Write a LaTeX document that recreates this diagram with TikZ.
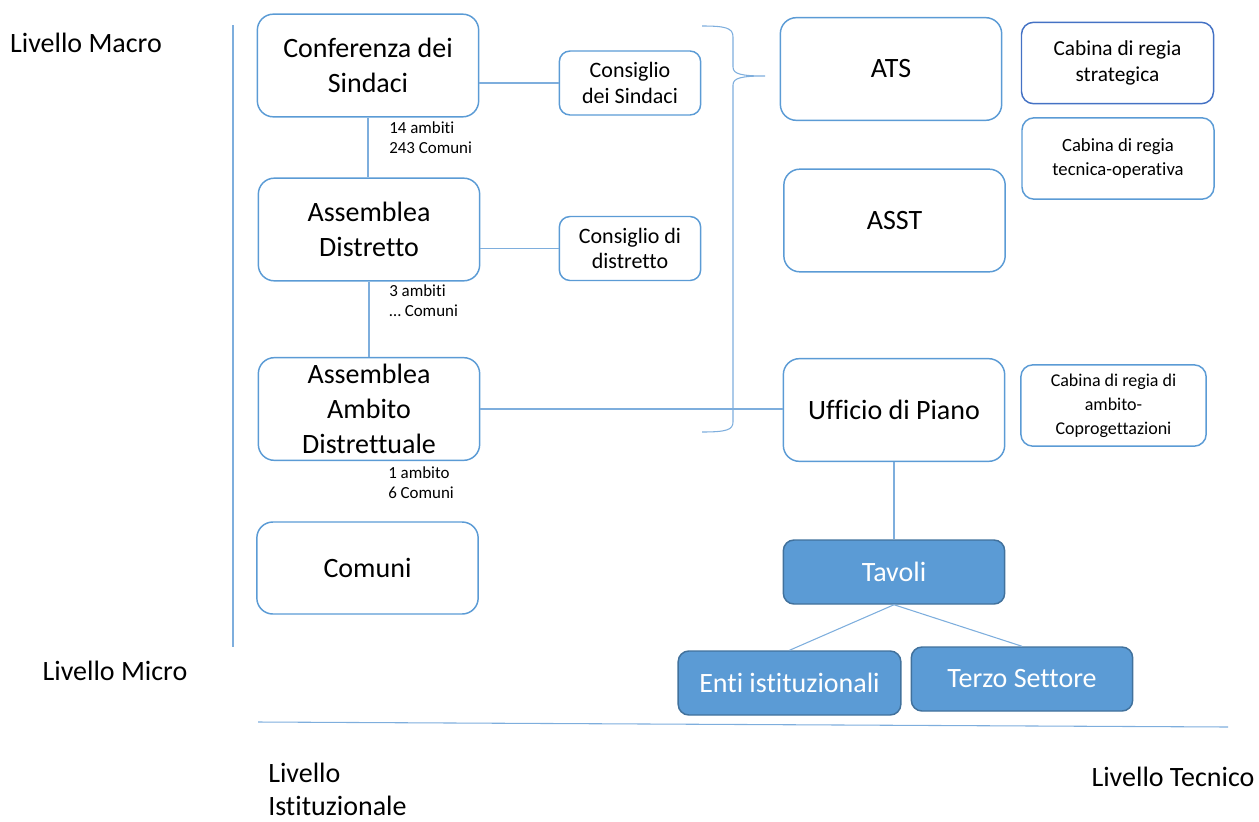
\documentclass[tikz,border=0pt]{standalone}
\usepackage{fontspec}
\setmainfont{Carlito}[Ligatures=NoCommon]
\definecolor{boxblue}{HTML}{5B9BD5}
\definecolor{darkblue}{HTML}{4472C4}
\definecolor{tavborder}{HTML}{41719C}
\definecolor{lineblue}{HTML}{7EAEDD}
\tikzset{
  box/.style={draw=boxblue,line width=1.1pt,rounded corners=12pt,align=center,
    inner sep=0pt,minimum width=166pt,minimum height=77pt,
    font=\fontsize{21}{26}\selectfont},
  smallbox/.style={box,minimum width=106pt,minimum height=48pt,rounded corners=8pt,
    font=\fontsize{16.5}{19}\selectfont},
  cabina/.style={box,minimum width=144pt,minimum height=61pt,rounded corners=9pt,
    font=\fontsize{14}{18}\selectfont},
  tavolo/.style={box,fill=boxblue,draw=tavborder,text=white,minimum height=48pt,
    rounded corners=8pt},
  note/.style={anchor=north west,align=left,inner sep=0pt,
    font=\fontsize{12.7}{15}\selectfont},
  livello/.style={inner sep=0pt,align=left,font=\fontsize{21}{24.5}\selectfont},
  link/.style={draw=lineblue,line width=0.8pt}
}
\begin{document}
\begin{tikzpicture}[x=0.75pt,y=-0.75pt]
  \useasboundingbox (0,0) rectangle (1259,821);
  % livello istituzionale
  \node[box] (conf) at (368,65.5) {Conferenza dei\\Sindaci};
  \node[box] (asd) at (369,229.5) {Assemblea\\Distretto};
  \node[box] (amb) at (369,409) {Assemblea\\Ambito\\Distrettuale};
  \node[box,minimum height=69pt] (com) at (367.5,568) {Comuni};
  \node[smallbox] (cons) at (630,83) {Consiglio\\dei Sindaci};
  \node[smallbox] (consd) at (630,248.5) {Consiglio di\\distretto};
  \node[note] (n1) at (389,121) {14 ambiti\\243 Comuni};
  \node[note] (n2) at (389,284) {3 ambiti\\\dots\ Comuni};
  \node[note] (n3) at (388,466) {1 ambito\\6 Comuni};
%%%
  % livello tecnico
  \node[box] (ats) at (891,69) {ATS};
  \node[box] (asst) at (894.5,220.5) {ASST};
  \node[box] (uff) at (894,410) {Ufficio di Piano};
  \node[cabina,draw=darkblue,font=\fontsize{16}{20}\selectfont] (cstr) at (1117.5,63) {Cabina di regia\\strategica};
  \node[cabina] (ctec) at (1118,158.5) {Cabina di regia\\tecnica-operativa};
  \node[cabina,minimum width=139pt,font=\fontsize{13.5}{18}\selectfont] (camb) at (1113.5,405.5) {Cabina di regia di\\ambito-\\Coprogettazioni};
  \node[tavolo] (tav) at (894,572) {Tavoli};
  \node[tavolo,minimum width=167pt] (enti) at (789.5,683) {Enti istituzionali};
  \node[tavolo] (terzo) at (1022,679) {Terzo Settore};
%%%
  \draw[link] (conf.south) -- (conf.south |- asd.north);
  \draw[link] (asd.south) -- (asd.south |- amb.north);
  \draw[link] (cons.west -| conf.east) -- (cons.west);
  \draw[link] (consd.west -| asd.east) -- (consd.west);
  \draw[link] (amb.east) -- (amb.east -| uff.west);
  \draw[link] (uff.south) -- (tav.north);
  \draw[link] (tav.south) -- (enti.north);
  \draw[link] (tav.south) -- (terzo.north);
%%%
  % graffa
  \coordinate (gtop) at (702,26);
  \coordinate (gtip) at (765,76);
  \coordinate (gbot) at (702,432);
  \draw[link] (gtop) .. controls (726,26) and (733,28) .. (733,37)
    -- (733,67) .. controls (733,74) and (741,76) .. (gtip)
    .. controls (741,76) and (733,78) .. (733,85)
    -- (733,422) .. controls (733,430) and (726,432) .. (gbot);
%%%
  % assi
  \coordinate (av1) at (233,25);
  \coordinate (av2) at (233,647);
  \coordinate (ao1) at (258,722);
  \coordinate (ao2) at (1228,727);
  \draw[link] (av1) -- (av2);
  \draw[link] (ao1) -- (ao2);
  \node[livello] (macro) at (86,43) {Livello Macro};
  \node[livello] (micro) at (115,671) {Livello Micro};
  \node[livello,anchor=north west] (ist) at (268,763) {Livello\\Istituzionale};
  \node[livello] (tec) at (1173,777) {Livello Tecnico};
\end{tikzpicture}
\end{document}
